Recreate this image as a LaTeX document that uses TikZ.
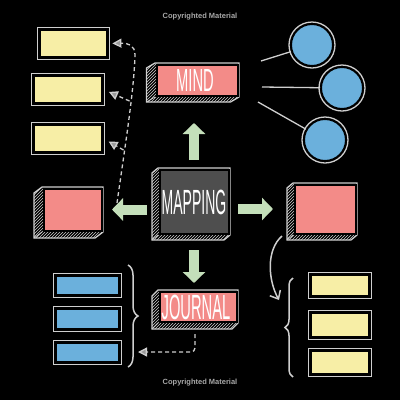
\documentclass[tikz,border=0pt]{standalone}
\usepackage{fontspec}
\setmainfont{Liberation Sans}
\usetikzlibrary{arrows.meta,patterns,fit,decorations.pathreplacing}
\definecolor{yel}{HTML}{F7EEA6}
\definecolor{pnk}{HTML}{F38B88}
\definecolor{blu}{HTML}{6BB0DC}
\definecolor{grn}{HTML}{C4DFBA}
\definecolor{frm}{HTML}{CFCFCF}
\definecolor{dgr}{HTML}{4E4E4E}
\definecolor{cpy}{HTML}{A8A8A8}
\definecolor{tipf}{HTML}{9A9A9A}
\newcommand\flatbox[6]{%
  \node[inner sep=0pt, fit={(#2+2.6,#3+2.6) (#4-2.6,#5-2.6)}, fill=#6, draw=black, line width=2pt] (#1) {};
  \draw[frame] (#2+0.7,#3+0.7) rectangle (#4-0.7,#5-0.7);}
\newcommand\deepbox[8]{%
  \fill[pattern=north east lines, pattern color=frm] (#2,#3) -- (#2-#6,#3+#7) -- (#2-#6,#5+#7) -- (#4-#6,#5+#7) -- (#4,#5) -- cycle;
  \draw[frame] (#2,#3) -- (#4,#3) -- (#4,#5) -- (#4-#6,#5+#7) -- (#2-#6,#5+#7) -- (#2-#6,#3+#7) -- cycle;
  \draw[frame, line width=0.8pt] (#2,#5) -- (#2-#6,#5+#7);
  \node[inner sep=0pt, fit={(#2+1.5,#3+1.5) (#4-1.5,#5-1.5)}, fill=#8, draw=black, line width=2pt] (#1) {};}
\newcommand\handtxt[3]{\scalebox{#1}[1]{\fontsize{#2}{#2}\selectfont #3}}
\begin{document}
\begin{tikzpicture}[x=1pt,y=-1pt,
  frame/.style={draw=frm, line width=1.3pt},
  lettering/.style={text=white, inner sep=0pt, anchor=center, text depth=0pt},
  garrow/.style={draw=grn, line width=10pt, -{Triangle[width=22pt,length=11pt]}},
  dashy/.style={draw=frm, line width=1.3pt, dash pattern=on 4pt off 3pt},
  gtip/.style={-{Triangle[width=9pt,length=9pt,fill=tipf]}},
  link/.style={draw=frm, line width=1.3pt},
  bubble/.style={circle, minimum size=42pt, inner sep=0pt, fill=blu, draw=black, line width=2pt},
  bracey/.style={draw=frm, line width=1.5pt, decorate},
  cpytxt/.style={text=cpy, font=\bfseries\fontsize{7.5}{8}\selectfont}]
\fill[black] (0,0) rectangle (400,400);
\useasboundingbox (0,0) rectangle (400,400);

\node[cpytxt] (cpt) at (200,17) {Copyrighted Material};
\node[cpytxt] (cpb) at (200,383) {Copyrighted Material};

% left yellow boxes
\flatbox{ly1}{37}{27}{110}{60}{yel}
\flatbox{ly2}{31}{73}{105}{106}{yel}
\flatbox{ly3}{31}{122}{105}{155}{yel}
% right yellow boxes
\flatbox{ry1}{308}{272}{372}{299}{yel}
\flatbox{ry2}{308}{310}{372}{340}{yel}
\flatbox{ry3}{308}{348}{372}{377}{yel}
% blue boxes
\flatbox{bl1}{53}{273}{122}{298}{blu}
\flatbox{bl2}{53}{306}{122}{332}{blu}
\flatbox{bl3}{53}{340}{122}{365}{blu}

% 3D boxes
\deepbox{mind}{155}{63}{239}{97}{8.5}{5}{pnk}
\deepbox{mapping}{158}{168}{230}{235}{6}{5}{dgr}
\deepbox{journal}{158}{290}{238}{323}{6}{6}{pnk}
\deepbox{lpink}{42}{187}{103}{232}{8}{6}{pnk}
\deepbox{rpink}{293}{183}{357}{235}{6}{5}{pnk}

\node[lettering, text height=23pt] (mindtxt) at ([xshift=-2pt]mind.center) {\handtxt{0.46}{32}{MIND}};
\node[lettering, text height=25pt] (mappingtxt) at (mapping.center) {\handtxt{0.40}{35}{MAPPING}};
\node[lettering, text height=25pt] (journaltxt) at ([xshift=-2pt]journal.center) {\handtxt{0.42}{35}{JOURNAL}};

% circles
\node[bubble] (c1) at (312,45) {};
\node[bubble] (c2) at (342,88) {};
\node[bubble] (c3) at (325,140) {};
\foreach \c in {c1,c2,c3}{\draw[frame] (\c) circle (23pt);}
\coordinate (s1) at (261,61);
\coordinate (s2) at (262,87);
\coordinate (s3) at (258,102);
\draw[link] (s1) -- (c1);
\draw[link] (s2) -- (c2);
\draw[link] (s3) -- (c3);

% green arrows
\draw[garrow, shorten <=8.5pt, shorten >=26.5pt] (mapping.north) -- (mapping.north |- mind.south);
\draw[garrow, shorten <=11.5pt, shorten >=9.5pt] (mapping.west |- lpink.east) -- (lpink.east);
\draw[garrow, shorten <=8.5pt, shorten >=20.5pt] (mapping.east |- rpink.west) -- (rpink.west);
\draw[garrow, shorten <=15.5pt, shorten >=7.5pt] (mapping.south) -- (mapping.south |- journal.north);

% dashed connectors to left yellow boxes
\coordinate (dstart) at (117,203);
\coordinate (dtop) at (135,55);
\coordinate (b2) at (129.5,101);
\coordinate (b3) at (123.5,150);
\draw[dashy, gtip, shorten >=4pt] (dstart) .. controls (126,140) and (134,90) .. (dtop) .. controls (135,45) and (128,43) .. (ly1.east);
\draw[dashy, gtip, shorten >=6pt] (b2) -- (ly2.east);
\draw[dashy, gtip, shorten >=6pt] (b3) -- (ly3.east);

% dashed connector under journal
\coordinate (jstart) at (195,334);
\coordinate (jend) at (138,352);
\draw[dashy, gtip, rounded corners=4pt] (jstart) |- (jend);

% curved arrow from right pink box
\coordinate (rcs) at (282,236);
\coordinate (rce) at (279,300);
\draw[link, line width=1.5pt, -{Straight Barb[length=7pt,width=12pt]}] (rcs) .. controls (266,250) and (268,280) .. (rce);

% braces
\coordinate (rb1) at (293,377);
\coordinate (rb2) at (293,278);
\draw[bracey, decoration={brace, amplitude=8pt}] (rb1) -- (rb2);
\coordinate (lb1) at (128,265);
\coordinate (lb2) at (128,367);
\draw[bracey, decoration={brace, amplitude=10pt}] (lb1) -- (lb2);
\end{tikzpicture}
\end{document}
